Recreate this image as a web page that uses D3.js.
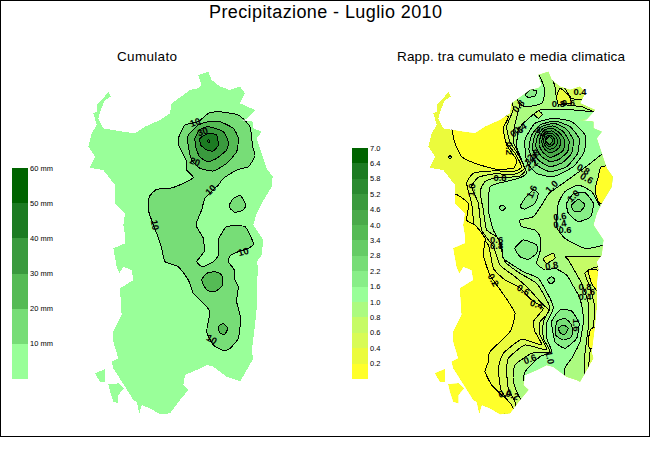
<!DOCTYPE html>
<html>
<head>
<meta charset="utf-8">
<script src="https://cdn.jsdelivr.net/npm/d3@7"></script>
<style>
  html, body { margin: 0; padding: 0; background: #fff; }
  text { font-family: "Liberation Sans", Arial, sans-serif; fill: #000; }
</style>
</head>
<body>
<div id="chart"></div>
<script>
// map geometry is in grid units: 3 units = 1 screen pixel
const island = [[355,15],[385,5],[395,30],[420,50],[450,60],[480,50],[495,70],[480,100],[525,120],[500,148],[475,150],[520,155],[520,175],[545,185],[530,205],[545,250],[560,295],[578,320],[575,350],[560,375],[545,400],[530,430],[520,465],[550,510],[545,555],[530,575],[535,595],[530,645],[530,715],[525,765],[515,845],[520,865],[480,935],[470,930],[440,920],[400,890],[380,885],[350,900],[315,915],[310,945],[325,960],[300,990],[270,1030],[240,1033],[210,1015],[185,1005],[178,1030],[170,995],[160,990],[135,950],[100,895],[95,875],[115,865],[100,815],[100,785],[125,735],[120,655],[160,630],[155,600],[130,590],[118,610],[110,590],[100,535],[135,520],[135,495],[130,465],[135,430],[105,400],[105,345],[70,300],[40,295],[28,295],[45,260],[25,230],[35,190],[50,165],[40,130],[52,125],[50,105],[70,85],[85,65],[92,80],[75,90],[62,120],[55,145],[70,175],[130,185],[165,190],[195,170],[240,150],[270,130],[275,100],[310,75],[330,60],[355,55],[365,45]];
const islet1 = [[45,910],[75,897],[75,935],[60,935]];
const islet2 = [[85,943],[115,940],[132,955],[115,975],[115,1000],[100,995],[90,965]];

// left panel: cumulato
const cumLevels = [10, 20, 30, 40, 50, 60];
const cumColors = ['#99ff99', '#77dd77', '#55bb55', '#3a9a3e', '#1c7b22', '#006400'];
const cum10 = [[415,125],[475,135],[510,170],[518,230],[525,258],[505,290],[470,300],[430,325],[415,345],[375,385],[365,420],[348,465],[370,505],[372,545],[350,575],[368,590],[400,575],[415,555],[415,510],[440,470],[495,470],[520,520],[505,535],[475,545],[450,557],[445,575],[463,600],[465,630],[475,650],[470,695],[482,745],[475,805],[450,835],[430,842],[400,825],[380,785],[390,725],[370,700],[340,670],[325,630],[295,590],[255,575],[245,535],[232,495],[220,465],[205,420],[208,380],[230,358],[270,355],[310,340],[340,322],[320,300],[318,270],[298,230],[295,205],[315,165],[355,155],[385,130]];
const cum10b = [[448,405],[460,385],[482,377],[497,405],[490,420],[465,427],[450,415]];
const cum20 = [[420,155],[460,175],[475,205],[470,245],[440,280],[400,303],[360,295],[335,270],[325,230],[325,195],[355,165],[385,155]];
const cum20b = [[365,630],[380,610],[405,605],[425,615],[428,645],[405,665],[380,660]];
const cum20c = [[415,770],[430,760],[443,775],[435,792],[420,790]];
const cum30 = [[430,185],[445,215],[440,240],[410,265],[385,275],[360,262],[348,235],[345,205],[358,180],[385,170]];
const cum40 = [[385,190],[410,195],[415,225],[400,243],[380,240],[362,225],[360,205]];
const cum50 = [[385,208],[390,213],[386,218],[382,213]];
const cumLabels = [['10',345,157,-20],['30',368,185,-20],['20',345,275,20],['10',392,360,-45],['10',225,465,80],['10',490,545,-15],['10',395,808,30]];

// right panel: rapporto tra cumulato e media climatica
const ratioLevels = [0.2, 0.4, 0.6, 0.8, 1.0, 1.6, 2.2, 2.8, 3.4, 4.0, 4.6, 5.2, 5.8, 6.4, 7.0];
const ratioColors = ['#ffff2a', '#ebfb3c', '#d8fb55', '#c6fb66', '#acfb80', '#99ff99', '#88ee88', '#77dd77', '#66cc66', '#55bb55', '#4aaa4a', '#3a9a3e', '#2a8a30', '#1c7b22', '#006400'];
const yellowNW = [[80,170],[90,220],[110,260],[150,280],[210,297],[265,295],[275,270],[245,225],[235,175],[250,140],[200,130],[100,150]];
const yellowSW = [[85,370],[130,400],[125,450],[150,465],[180,505],[175,555],[195,615],[240,680],[270,730],[255,785],[195,845],[190,875],[180,905],[200,945],[230,975],[260,1005],[258,1045],[-20,1045],[-20,370]];
const yellowE1 = [[530,290],[520,320],[510,360],[525,400],[600,400],[600,290]];
const yellowE2 = [[490,600],[500,640],[525,670],[600,670],[600,590],[520,600]];
const yellowE3 = [[500,775],[490,810],[495,835],[560,840],[560,770]];
const ratio04 = [[245,125],[232,170],[242,215],[270,250],[290,290],[270,303],[200,303],[145,310],[125,340],[140,400],[150,480],[190,525],[205,595],[240,630],[280,650],[320,690],[355,715],[325,755],[330,785],[350,825],[290,808],[235,850],[220,895],[228,960],[250,995],[258,1045],[700,1045],[700,-10],[245,-10]];
const ratio06 = [[265,115],[245,170],[255,215],[280,255],[298,295],[270,312],[205,312],[160,322],[140,350],[160,400],[170,480],[205,530],[225,585],[270,620],[310,655],[350,700],[375,725],[345,755],[345,795],[365,840],[300,825],[250,865],[245,905],[250,955],[270,995],[285,1045],[480,1045],[490,900],[500,800],[510,720],[495,650],[480,610],[520,590],[700,590],[700,-10],[265,-10]];
const ratio08 = [[285,100],[268,170],[265,215],[285,260],[302,300],[280,320],[215,322],[180,335],[165,365],[175,420],[185,480],[220,505],[240,575],[285,610],[335,640],[365,690],[375,715],[355,755],[355,805],[375,845],[320,850],[270,885],[265,935],[300,1000],[470,1000],[480,850],[490,770],[490,700],[470,640],[430,570],[425,560],[530,558],[700,545],[700,-10],[285,-10]];
const ratioNE06 = [[385,-10],[390,50],[400,100],[470,110],[510,125],[620,125],[620,-10]];
const ratioNE04 = [[405,-10],[415,45],[440,85],[480,90],[620,90],[620,-10]];
const ratioPatch1 = [[395,80],[405,55],[430,75],[440,100],[420,100],[400,105]];
const ratioPatch2 = [[355,565],[385,550],[390,565],[365,580]];
const ratioDiamond1 = [[328,133],[340,122],[352,133],[340,145]];
const ratio10a = [[300,155],[280,180],[275,230],[290,270],[305,310],[280,325],[240,335],[195,350],[190,420],[205,480],[230,525],[235,565],[295,605],[340,625],[375,685],[385,715],[365,760],[365,805],[380,845],[345,860],[300,905],[298,935],[340,1000],[405,1000],[420,895],[440,865],[465,815],[475,755],[470,705],[460,675],[440,640],[425,615],[390,595],[360,600],[335,580],[345,545],[345,500],[330,480],[290,470],[285,450],[325,440],[350,405],[372,370],[400,350],[435,325],[490,285],[545,245],[700,200],[700,125],[510,125],[420,118],[345,120]];
const ratio10b = [[400,400],[420,365],[460,345],[500,365],[520,400],[535,430],[540,520],[480,535],[420,505],[395,470]];
const ratio10c = [[340,10],[360,60],[350,100],[300,110],[275,85],[300,50],[330,10]];
const ratioDiamond2 = [[222,413],[232,405],[242,413],[232,422]];
const ratioDiamond3 = [[367,630],[380,620],[390,630],[378,642]];
const ratioDiamond4 = [[70,262],[75,257],[80,262],[75,267]];
// peak rings in north: one list per level from 1.6 up
const northRings = [
  [[330,160],[385,145],[440,155],[480,195],[478,245],[445,290],[385,320],[335,310],[305,275],[300,210]],
  [[345,165],[390,153],[435,170],[462,205],[458,250],[425,290],[375,305],[335,285],[312,240],[320,195]],
  [[350,170],[388,160],[425,178],[445,210],[440,250],[412,278],[375,290],[340,270],[322,235],[330,195]],
  [[355,175],[385,168],[415,185],[432,213],[428,245],[402,268],[375,275],[348,258],[332,228],[338,198]],
  [[358,180],[383,175],[405,190],[420,212],[415,240],[395,255],[373,262],[352,245],[342,225],[346,202]],
  [[360,187],[381,183],[398,195],[408,213],[403,232],[388,245],[372,248],[357,235],[351,220],[352,203]],
  [[363,192],[380,190],[392,200],[398,213],[394,228],[382,236],[372,237],[361,228],[356,216],[357,203]],
  [[366,198],[378,197],[387,205],[390,214],[385,223],[377,228],[370,228],[363,221],[361,212]],
  [[372,200],[384,210],[374,224],[362,212]]
];
const northRingColors = [6, 7, 8, 9, 10, 11, 11, 12, 10];
const southRings = [
  [[380,755],[405,720],[440,723],[462,760],[455,805],[420,835],[390,815]],
  [[395,755],[420,745],[440,765],[440,800],[415,810],[392,795]],
  [[400,775],[415,765],[430,775],[420,793],[407,790]]
];
const eastRings = [
  [[425,400],[445,372],[480,368],[505,400],[497,440],[460,455],[430,430]],
  [[440,405],[460,388],[480,405],[465,425],[445,422]]
];
const blob16a = [[285,410],[300,385],[325,360],[340,370],[330,400],[300,417]];
const blob16b = [[270,535],[295,510],[335,525],[335,550],[310,568],[285,560]];
const blob16c = [[300,75],[315,60],[335,62],[330,78],[310,82]];
const ratioLabels = [['0.8',280,108,-50],['0.4',285,175,-30],['0.6',275,185,-30],['0.2',252,235,90],['0.8',225,323,0],['1.0',140,360,-85],['1.6',320,365,-65],['1.0',380,350,-45],['5.2',350,185,30],['2.8',325,255,-40],['2.2',320,285,-40],['3.4',318,268,-40],['0.8',400,102,0],['0.6',430,98,0],['0.4',465,65,0],['0.8',475,298,30],['0.6',485,325,30],['1.0',445,378,-45],['0.6',405,440,-10],['0.4',405,462,-10],['0.6',215,510,0],['0.8',215,527,0],['0.2',205,630,60],['0.6',295,660,30],['0.4',335,703,20],['0.8',380,587,-10],['0.8',480,650,0],['0.6',490,665,0],['0.4',480,680,0],['1.6',455,765,90],['1.0',375,863,80],['0.6',315,867,-20],['0.4',240,970,-10],['0.2',262,975,20],['0.6',420,480,0]];

const width = 650, height = 450;
const svg = d3.select('#chart').append('svg').attr('width', width).attr('height', height).style('display', 'block');

svg.append('rect').attr('x', 0.5).attr('y', 0.5).attr('width', 649).attr('height', 435.5)
  .attr('fill', '#fff').attr('stroke', '#000').attr('shape-rendering', 'crispEdges');

svg.append('text').attr('x', 209).attr('y', 18).attr('font-size', 18).attr('textLength', 233).text('Precipitazione - Luglio 2010');
svg.append('text').attr('x', 117).attr('y', 61).attr('font-size', 13.5).attr('textLength', 60).text('Cumulato');
svg.append('text').attr('x', 397).attr('y', 61).attr('font-size', 13.5).attr('textLength', 228).text('Rapp. tra cumulato e media climatica');

const y = d3.scaleLinear().domain([0, 630]).range([70, 280]);

function drawMap(id, x0, baseColor) {
  const x = d3.scaleLinear().domain([0, 630]).range([x0, x0 + 210]);
  const edge = d3.line().x(d => x(d[0])).y(d => y(d[1]));
  const g = svg.append('g');
  const clip = g.append('clipPath').attr('id', id);
  [island, islet1, islet2].forEach(s => clip.append('path').attr('d', edge(s) + 'Z'));
  [island, islet1, islet2].forEach(s => g.append('path').attr('d', edge(s) + 'Z').attr('fill', baseColor).attr('shape-rendering', 'crispEdges'));
  return g.append('g').attr('clip-path', `url(#${id})`);
}

function contourLayer(layer, x) {
  const curve = d3.line().x(d => x(d[0])).y(d => y(d[1])).curve(d3.curveCardinalClosed.tension(0.5));
  return (pts, fill) => layer.append('path').attr('d', curve(pts)).attr('fill', fill)
    .attr('stroke', '#000').attr('stroke-width', 1).attr('shape-rendering', 'crispEdges');
}

function drawLabels(x, labels) {
  const g = svg.append('g').attr('font-size', 9.5).attr('font-weight', 'bold').attr('text-anchor', 'middle');
  labels.forEach(([t, lx, ly, rot]) => {
    g.append('text').attr('transform', `translate(${x(lx)},${y(ly)}) rotate(${rot})`).attr('dy', '0.35em').text(t);
  });
}

// left map
const leftLayer = drawMap('clipL', 80, cumColors[0]);
const xL = d3.scaleLinear().domain([0, 630]).range([80, 290]);
const paintL = contourLayer(leftLayer, xL);
[cum10, cum10b].forEach(s => paintL(s, cumColors[1]));
[cum20, cum20b, cum20c].forEach(s => paintL(s, cumColors[2]));
paintL(cum30, cumColors[3]);
paintL(cum40, cumColors[4]);
paintL(cum50, cumColors[4]);
drawLabels(xL, cumLabels);

// right map: island outline sits at 420, traced contours were read with origin 425
const rightLayer = drawMap('clipR', 420, ratioColors[1]);
const xR = d3.scaleLinear().domain([0, 630]).range([425, 635]);
const paintR = contourLayer(rightLayer, xR);
const C = ratioColors;
paintR(ratio04, C[2]);
paintR(ratio06, C[3]);
paintR(ratio08, C[4]);
[yellowNW, yellowSW].forEach(s => paintR(s, C[0]));
paintR(ratioNE06, C[3]);
paintR(ratioNE04, C[2]);
paintR(ratioPatch1, C[1]);
[ratio10a, ratio10b, ratio10c].forEach(s => paintR(s, C[5]));
[yellowE1, yellowE2, yellowE3].forEach(s => paintR(s, C[0]));
paintR(ratioDiamond1, C[3]);
paintR(ratioPatch2, C[2]);
[ratioDiamond2, ratioDiamond3, ratioDiamond4].forEach(s => paintR(s, C[6]));
[blob16a, blob16b, blob16c].forEach(s => paintR(s, C[6]));
northRings.forEach((s, i) => paintR(s, C[northRingColors[i]]));
southRings.forEach((s, i) => paintR(s, C[6 + i]));
eastRings.forEach((s, i) => paintR(s, C[6 + i]));
drawLabels(xR, ratioLabels);

// legends
function drawLegend(levels, colors, x0, top, bottom, fmt) {
  const ly = d3.scaleLinear().domain([0, levels.length]).range([bottom, top]);
  const g = svg.append('g').attr('shape-rendering', 'crispEdges');
  levels.forEach((lev, i) => {
    g.append('rect').attr('x', x0).attr('width', 16)
      .attr('y', ly(i + 1)).attr('height', ly(i) - ly(i + 1)).attr('fill', colors[i]);
    svg.append('text').attr('x', x0 + 18).attr('y', ly(i + 1)).attr('dy', '0.35em')
      .attr('font-size', 7.5).text(fmt(lev));
  });
}
drawLegend(cumLevels, cumColors, 12, 168, 379, d => d + ' mm');
drawLegend(ratioLevels, ratioColors, 352, 148, 379, d => d.toFixed(1));
</script>
</body>
</html>
